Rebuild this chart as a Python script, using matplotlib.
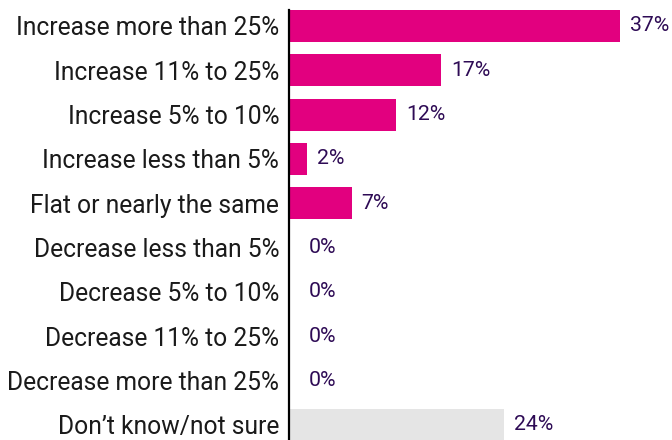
import matplotlib.pyplot as plt

# Survey responses, top to bottom
categories = [
    "Increase more than 25%",
    "Increase 11% to 25%",
    "Increase 5% to 10%",
    "Increase less than 5%",
    "Flat or nearly the same",
    "Decrease less than 5%",
    "Decrease 5% to 10%",
    "Decrease 11% to 25%",
    "Decrease more than 25%",
    "Don\u2019t know/not sure",
]
values = [37, 17, 12, 2, 7, 0, 0, 0, 0, 24]
bar_colors = ["#E2007F"] * 9 + ["#E5E5E5"]

plt.rcParams['font.family'] = ['Roboto', 'DejaVu Sans']

fig = plt.figure(figsize=(6.72, 4.40), dpi=100)
ax = fig.add_axes([289 / 672, 0, 383 / 672, 430 / 440])

ypos = list(range(len(categories)))
ax.barh(ypos, values, height=0.72, color=bar_colors)

ax.set_xlim(0, 383 / 8.94)
ax.set_ylim(9.34, -0.36)

ax.set_yticks(ypos)
ax.set_yticklabels(categories, fontsize=17.7, color="#1a1a1a")
ax.tick_params(axis='y', length=0, pad=7)
ax.set_xticks([])

for s in ['top', 'right', 'bottom']:
    ax.spines[s].set_visible(False)
ax.spines['left'].set_linewidth(1.6)
ax.spines['left'].set_color('black')

for y, v in zip(ypos, values):
    pad = 10 if v > 0 else 20
    ax.annotate(f"{v}%", (v, y), xytext=(pad * 0.72, 0), textcoords='offset points',
                va='center', ha='left', fontsize=15.3, color="#2E0B55")

fig.savefig("out.png", dpi=100)
